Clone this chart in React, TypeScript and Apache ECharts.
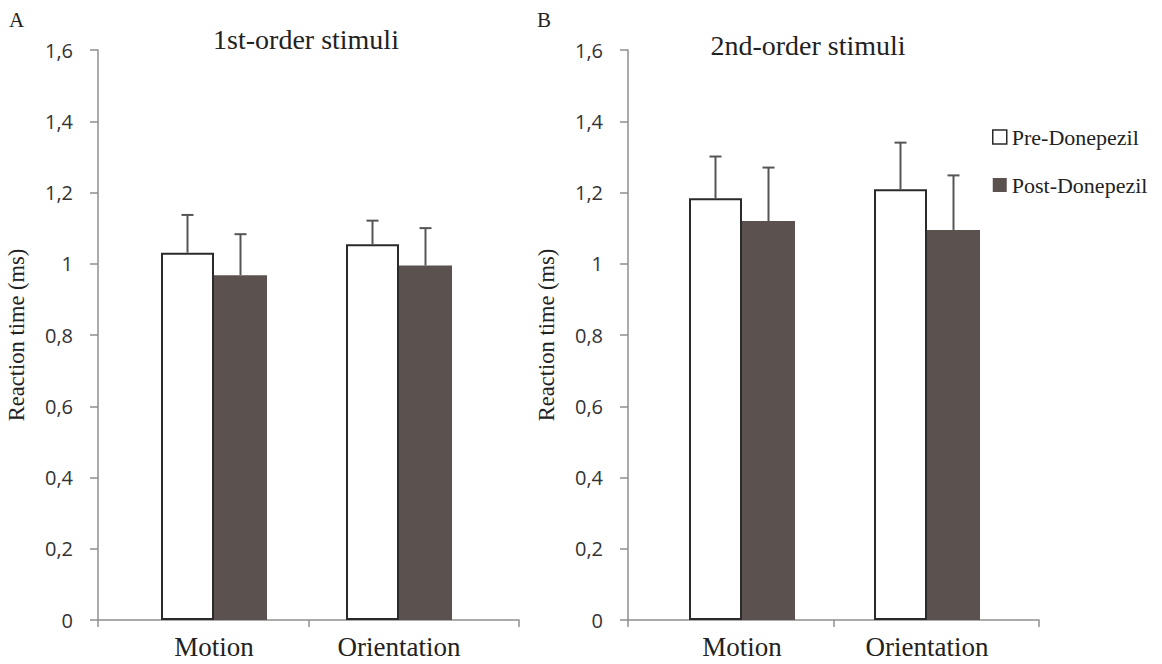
import React, { useEffect, useRef } from "react";
import * as echarts from "echarts";

const categories = ["Motion", "Orientation"];
const seriesNames = ["Pre-Donepezil", "Post-Donepezil"];
const firstPre = [1.031, 1.055];
const firstPreErr = [0.106, 0.066];
const firstPost = [0.968, 0.995];
const firstPostErr = [0.115, 0.105];
const secondPre = [1.184, 1.209];
const secondPreErr = [0.117, 0.131];
const secondPost = [1.12, 1.095];
const secondPostErr = [0.15, 0.153];
const yTicks = { min: 0, max: 1.6, interval: 0.2 };

const SERIF = "Liberation Serif";
const SANS = "Open Sans";
const AXIS_COLOR = "#8f8f8f";
const PRE_BORDER = "#2a2a2a";
const POST_COLOR = "#5b524f";
const ERR_COLOR = "#555";
const BAR_W = 53;

const errItem = (offset: number) => (params: any, api: any) => {
  const x = api.value(0);
  const v = api.value(1);
  const e = api.value(2);
  const base = api.coord([x, v]);
  const top = api.coord([x, v + e]);
  const cx = base[0] + offset;
  const style = { stroke: ERR_COLOR, lineWidth: 2 };
  return {
    type: "group",
    children: [
      { type: "line", shape: { x1: cx, y1: base[1], x2: cx, y2: top[1] }, style },
      { type: "line", shape: { x1: cx - 6, y1: top[1], x2: cx + 6, y2: top[1] }, style },
    ],
  };
};

const fmt = (v: number) => String(Math.round(v * 10) / 10).replace(".", ",");

function axisGridX(gridIndex: number) {
  return {
    type: "category",
    gridIndex,
    data: categories,
    boundaryGap: true,
    axisLine: { show: true, lineStyle: { color: AXIS_COLOR, width: 1.5 } },
    axisTick: { show: true, length: 7, lineStyle: { color: AXIS_COLOR, width: 1.5 } },
    axisLabel: { show: false },
    splitLine: { show: false },
  };
}
function barGridX(gridIndex: number) {
  return {
    type: "category",
    gridIndex,
    data: categories,
    axisLine: { show: false },
    axisTick: { show: false },
    axisLabel: { show: true, fontFamily: SERIF, fontSize: 27, color: "#222", margin: 13 },
    splitLine: { show: false },
  };
}
function axisGridY(gridIndex: number) {
  return {
    type: "value",
    gridIndex,
    min: yTicks.min,
    max: yTicks.max,
    interval: yTicks.interval,
    name: "Reaction time (ms)",
    nameLocation: "middle",
    nameGap: 70,
    nameTextStyle: { fontFamily: SERIF, fontSize: 22.5, color: "#222" },
    axisLine: { show: true, lineStyle: { color: AXIS_COLOR, width: 1.5 } },
    axisTick: { show: true, length: 8, lineStyle: { color: AXIS_COLOR, width: 1.5 } },
    axisLabel: { fontFamily: SANS, fontSize: 20, color: "#333", margin: 25, formatter: fmt },
    splitLine: { show: false },
  };
}
function barGridY(gridIndex: number) {
  return { type: "value", gridIndex, min: yTicks.min, max: yTicks.max, show: false, splitLine: { show: false } };
}

export default function App() {
  const ref = useRef<HTMLDivElement>(null);
  useEffect(() => {
    document.body.style.margin = "0";
    if (!ref.current) return;
    const chart = echarts.init(ref.current, undefined, { renderer: "svg" });
    const preStyle = { color: "#fff", borderColor: PRE_BORDER, borderWidth: 2 };
    const postStyle = { color: POST_COLOR };
    const bar = (name: string, xi: number, data: number[], style: any) => ({
      type: "bar",
      name,
      xAxisIndex: xi,
      yAxisIndex: xi,
      data,
      barWidth: BAR_W,
      barGap: "0%",
      itemStyle: style,
      z: 2,
    });
    const err = (name: string, xi: number, vals: number[], errs: number[], off: number) => ({
      type: "custom",
      name,
      xAxisIndex: xi,
      yAxisIndex: xi,
      data: vals.map((v, i) => [i, v, errs[i]]),
      encode: { x: 0, y: 1 },
      renderItem: errItem(off),
      z: 5,
      silent: true,
    });
    chart.setOption({
      animation: false,
      backgroundColor: "#ffffff",
      grid: [
        { left: 98, right: 1162 - 519, top: 50, bottom: 44 },
        { left: 121.5, right: 1162 - 491.5, top: 50, bottom: 44 },
        { left: 628, right: 1162 - 1039, top: 50, bottom: 44 },
        { left: 649.5, right: 1162 - 1019.5, top: 50, bottom: 44 },
      ],
      xAxis: [axisGridX(0), barGridX(1), axisGridX(2), barGridX(3)],
      yAxis: [axisGridY(0), barGridY(1), axisGridY(2), barGridY(3)],
      legend: {
        orient: "vertical",
        left: 987,
        top: 121,
        itemWidth: 14,
        itemHeight: 14,
        itemGap: 26,
        selectedMode: false,
        textStyle: { fontFamily: SERIF, fontSize: 22, color: "#222" },
        data: [
          { name: seriesNames[0], icon: "rect", itemStyle: { color: "#fff", borderColor: PRE_BORDER, borderWidth: 1.5 } },
          { name: seriesNames[1], icon: "rect", itemStyle: { color: POST_COLOR, borderWidth: 0 } },
        ],
      },
      graphic: [
        { type: "text", left: 9, top: 9, style: { text: "A", fontFamily: SERIF, fontSize: 21, fill: "#222" } },
        { type: "text", left: 537, top: 9, style: { text: "B", fontFamily: SERIF, fontSize: 21, fill: "#222" } },
        { type: "text", x: 306, y: 39, style: { text: "1st-order stimuli", fontFamily: SERIF, fontSize: 28, fill: "#222", align: "center", verticalAlign: "middle" } },
        { type: "text", x: 808, y: 45, style: { text: "2nd-order stimuli", fontFamily: SERIF, fontSize: 28, fill: "#222", align: "center", verticalAlign: "middle" } },
      ],
      series: [
        bar(seriesNames[0], 1, firstPre, preStyle),
        bar(seriesNames[1], 1, firstPost, postStyle),
        bar(seriesNames[0], 3, secondPre, preStyle),
        bar(seriesNames[1], 3, secondPost, postStyle),
        err("errA1", 1, firstPre, firstPreErr, -BAR_W / 2),
        err("errA2", 1, firstPost, firstPostErr, BAR_W / 2),
        err("errB1", 3, secondPre, secondPreErr, -BAR_W / 2),
        err("errB2", 3, secondPost, secondPostErr, BAR_W / 2),
      ],
    });
    return () => chart.dispose();
  }, []);
  return <div ref={ref} style={{ width: 1162, height: 664 }} />;
}
